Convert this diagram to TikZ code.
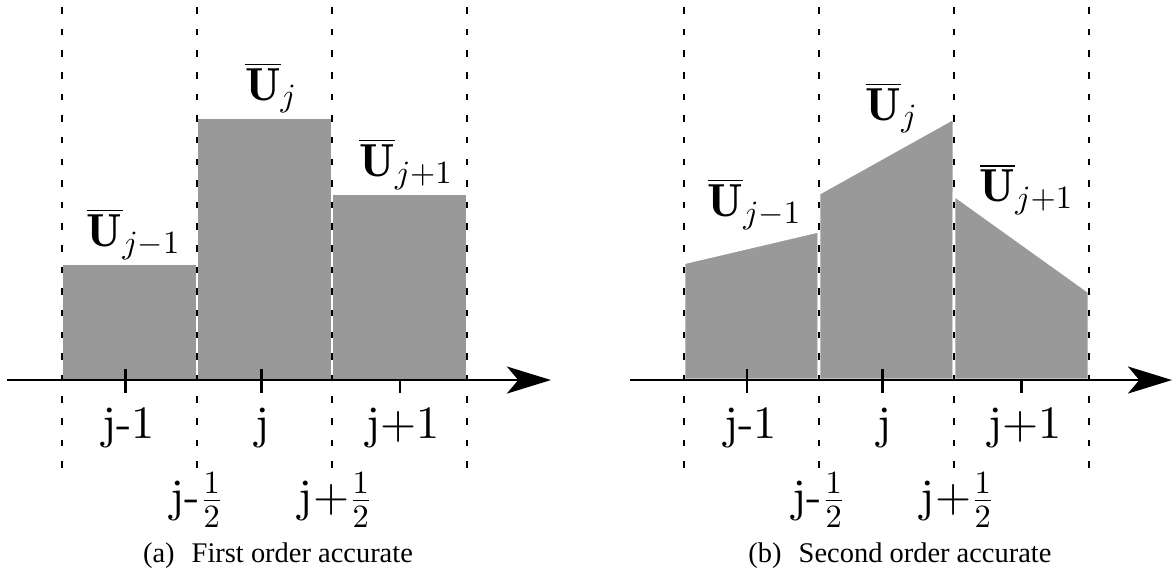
\documentclass[tikz,border=0pt]{standalone}
\usepackage{fix-cm}
\usepackage{fontspec}
\newfontfamily\capfont{Liberation Serif}
\newfontfamily\labfont{lmroman10-regular.otf}
\usetikzlibrary{arrows.meta}
\begin{document}
\begin{tikzpicture}[x=1.668cm,y=1.668cm,
    cell/.style={fill=gray!80, draw=white, line width=1pt},
    iface/.style={dash pattern=on 2.3pt off 5.3pt, line width=0.6pt},
    axis/.style={line width=0.9pt, -{Stealth[length=15.5pt,width=9.5pt,inset=4pt]}},
    axtick/.style={line width=0.9pt},
    lab/.style={font=\labfont\fontsize{16.3}{19}\selectfont, anchor=base, inner sep=0pt},
    captext/.style={font=\capfont\fontsize{10}{12}\selectfont, anchor=base, inner sep=0pt}]
    \useasboundingbox (-0.459,-1.422) rectangle (8.222,2.815);
    % (a) piecewise constant
    \draw[cell] (0,0) rectangle (1,0.864);
    \draw[cell] (1,0) rectangle (2,1.943);
    \draw[cell] (2,0) rectangle (3,1.378);
    \foreach \x in {0,1,2,3}
        \draw[iface] (\x,-0.65) -- (\x,2.78);
    \coordinate (xa0) at (-0.407,0);
    \coordinate (xa1) at (3.622,0);
    \draw[axis] (xa0) -- (xa1);
    \draw[axtick] (0.472,0.081) -- (0.472,-0.096);
    \draw[axtick] (1.476,0.081) -- (1.476,-0.096);
    \draw[axtick] (2.504,0) -- (2.504,-0.096);
    \node[lab] (ua1) at (0.532,0.988) {$\overline{\mathbf{U}}_{j-1}$};
    \node[lab] (ua2) at (1.55,2.074) {$\overline{\mathbf{U}}_{j}$};
    \node[lab] (ua3) at (2.55,1.506) {$\overline{\mathbf{U}}_{j+1}$};
    \node[lab] (ja1) at (0.493,-0.43) {j-1};
    \node[lab] (ja2) at (1.486,-0.43) {j};
    \node[lab] (ja3) at (2.528,-0.43) {j+1};
    \node[lab] (ha1) at (1.0,-0.975) {j-$\frac{1}{2}$};
    \node[lab] (ha2) at (2.026,-0.975) {j+$\frac{1}{2}$};
    \node[captext] (capa) at (1.6,-1.348) {(a)\hskip0.6em First order accurate};
    % (b) piecewise linear
    \begin{scope}[shift={(4.607,0)}]
        \draw[cell] (0,0) -- (0,0.869) -- (1,1.104) -- (1,0) -- cycle;
        \draw[cell] (1,0) -- (1,1.383) -- (2,1.941) -- (2,0) -- cycle;
        \draw[cell] (2,0) -- (2,1.370) -- (3,0.654) -- (3,0) -- cycle;
        \foreach \x in {0,1,2,3}
            \draw[iface] (\x,-0.65) -- (\x,2.78);
        \coordinate (xb0) at (-0.4,0);
        \coordinate (xb1) at (3.615,0);
        \draw[axis] (xb0) -- (xb1);
        \draw[axtick] (0.467,0.081) -- (0.467,-0.096);
        \draw[axtick] (1.472,0.081) -- (1.472,-0.096);
        \draw[axtick] (2.499,0) -- (2.499,-0.096);
        \node[lab] (ub1) at (0.524,1.21) {$\overline{\mathbf{U}}_{j-1}$};
        \node[lab] (ub2) at (1.54,1.926) {$\overline{\mathbf{U}}_{j}$};
        \node[lab] (ub3) at (2.538,1.32) {$\overline{\mathbf{U}}_{j+1}$};
        \node[lab] (jb1) at (0.493,-0.43) {j-1};
        \node[lab] (jb2) at (1.486,-0.43) {j};
        \node[lab] (jb3) at (2.528,-0.43) {j+1};
        \node[lab] (hb1) at (1.0,-0.975) {j-$\frac{1}{2}$};
        \node[lab] (hb2) at (2.026,-0.975) {j+$\frac{1}{2}$};
        \node[captext] (capb) at (1.6,-1.348) {(b)\hskip0.6em Second order accurate};
    \end{scope}
\end{tikzpicture}
\end{document}
